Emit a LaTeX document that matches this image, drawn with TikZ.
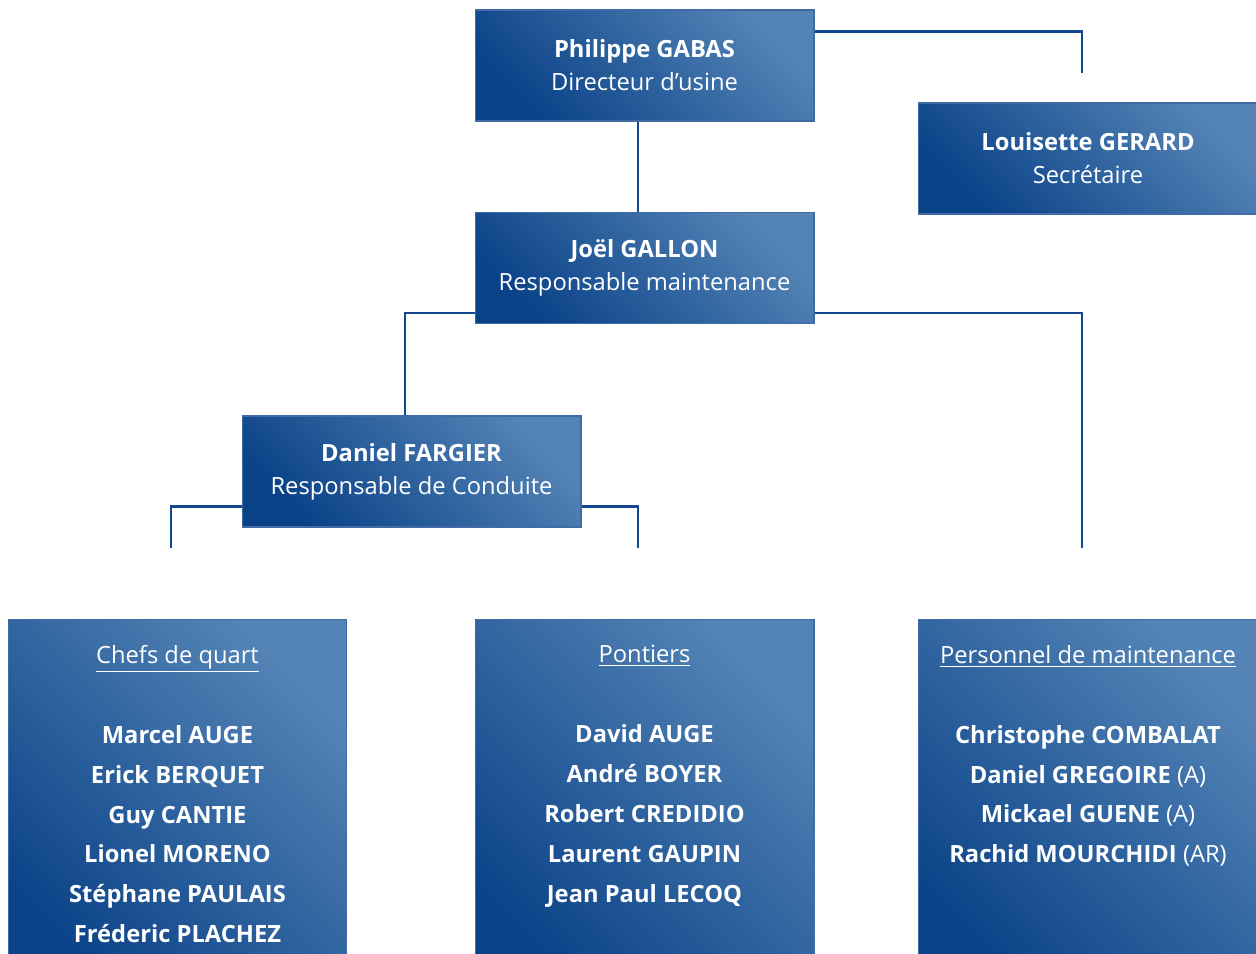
\documentclass[tikz,border=0pt]{standalone}
\usepackage{fontspec}
\setmainfont{Open Sans}
\usetikzlibrary{positioning}
\definecolor{orgdark}{RGB}{10,66,136}
\definecolor{orglight}{RGB}{84,132,182}
\definecolor{orgblue}{RGB}{18,70,142}
\tikzset{
  orgbox/.style={rectangle, draw=orgblue!80, line width=0.6pt,
                 top color=orglight, bottom color=orgdark, shading angle=-45,
                 minimum width=6.78cm, minimum height=2.22cm, inner sep=0pt,
                 text=white, align=center, font=\fontsize{13.5}{18.7}\selectfont},
  teambox/.style={orgbox, minimum height=7.6cm},
  teamtext/.style={text=white, align=center, inner sep=0pt, anchor=north,
                   font=\fontsize{13.5}{22.7}\selectfont\bfseries},
  link/.style={orgblue, line width=1.2pt},
}

\begin{document}
\begin{tikzpicture}[x=0.02cm, y=-0.02cm]
  \clip (0,0) rectangle (1256,953);
  % direction
  \node[orgbox] (gabas) at (644.5,65.5) {\textbf{Philippe GABAS}\\Directeur d’usine};
  \node[orgbox] (gerard) at (1088,158.5) {\textbf{Louisette GERARD}\\Secrétaire};
  \node[orgbox] (gallon) at (644.5,268) {\textbf{Joël GALLON}\\Responsable maintenance};
  \node[orgbox] (fargier) at (411.5,471.5) {\textbf{Daniel FARGIER}\\Responsable de Conduite};
  % equipes
  \node[teambox, anchor=north] (chefs) at (177.5,619) {};
  \node[teambox, anchor=north] (pontiers) at (644.5,619) {};
  \node[teambox, anchor=north] (maint) at (1088,619) {};
  \node[teamtext] (chefst) at ([yshift=-0.52cm]chefs.north)
    {\mdseries\underline{Chefs de quart}\\[22.7pt]
     Marcel AUGE\\Erick BERQUET\\Guy CANTIE\\Lionel MORENO\\Stéphane PAULAIS\\Fréderic PLACHEZ};
  \node[teamtext] (pontierst) at ([yshift=-0.52cm]pontiers.north)
    {\mdseries\underline{Pontiers}\\[22.7pt]
     David AUGE\\André BOYER\\Robert CREDIDIO\\Laurent GAUPIN\\Jean Paul LECOQ};
  \node[teamtext] (maintt) at ([yshift=-0.52cm]maint.north)
    {\mdseries\underline{Personnel de maintenance}\\[22.7pt]
     Christophe COMBALAT\\Daniel GREGOIRE \textmd{(A)}\\Mickael GUENE \textmd{(A)}\\Rachid MOURCHIDI \textmd{(AR)}};
  % liens
  \coordinate (secend) at (1082,73);
  \coordinate (chefsend) at (171,548);
  \coordinate (pontend) at (638,548);
  \coordinate (maintend) at (1082,548);
  \draw[link] ([yshift=-0.44cm]gabas.north east) -| (secend);
  \draw[link] ([xshift=-0.13cm]gabas.south) -- ([xshift=-0.13cm]gallon.north);
  \draw[link] ([yshift=0.22cm]gallon.south west) -| ([xshift=-0.13cm]fargier.north);
  \draw[link] ([yshift=0.22cm]gallon.south east) -| (maintend);
  \draw[link] ([yshift=0.42cm]fargier.south west) -| (chefsend);
  \draw[link] ([yshift=0.42cm]fargier.south east) -| (pontend);
\end{tikzpicture}
\end{document}
